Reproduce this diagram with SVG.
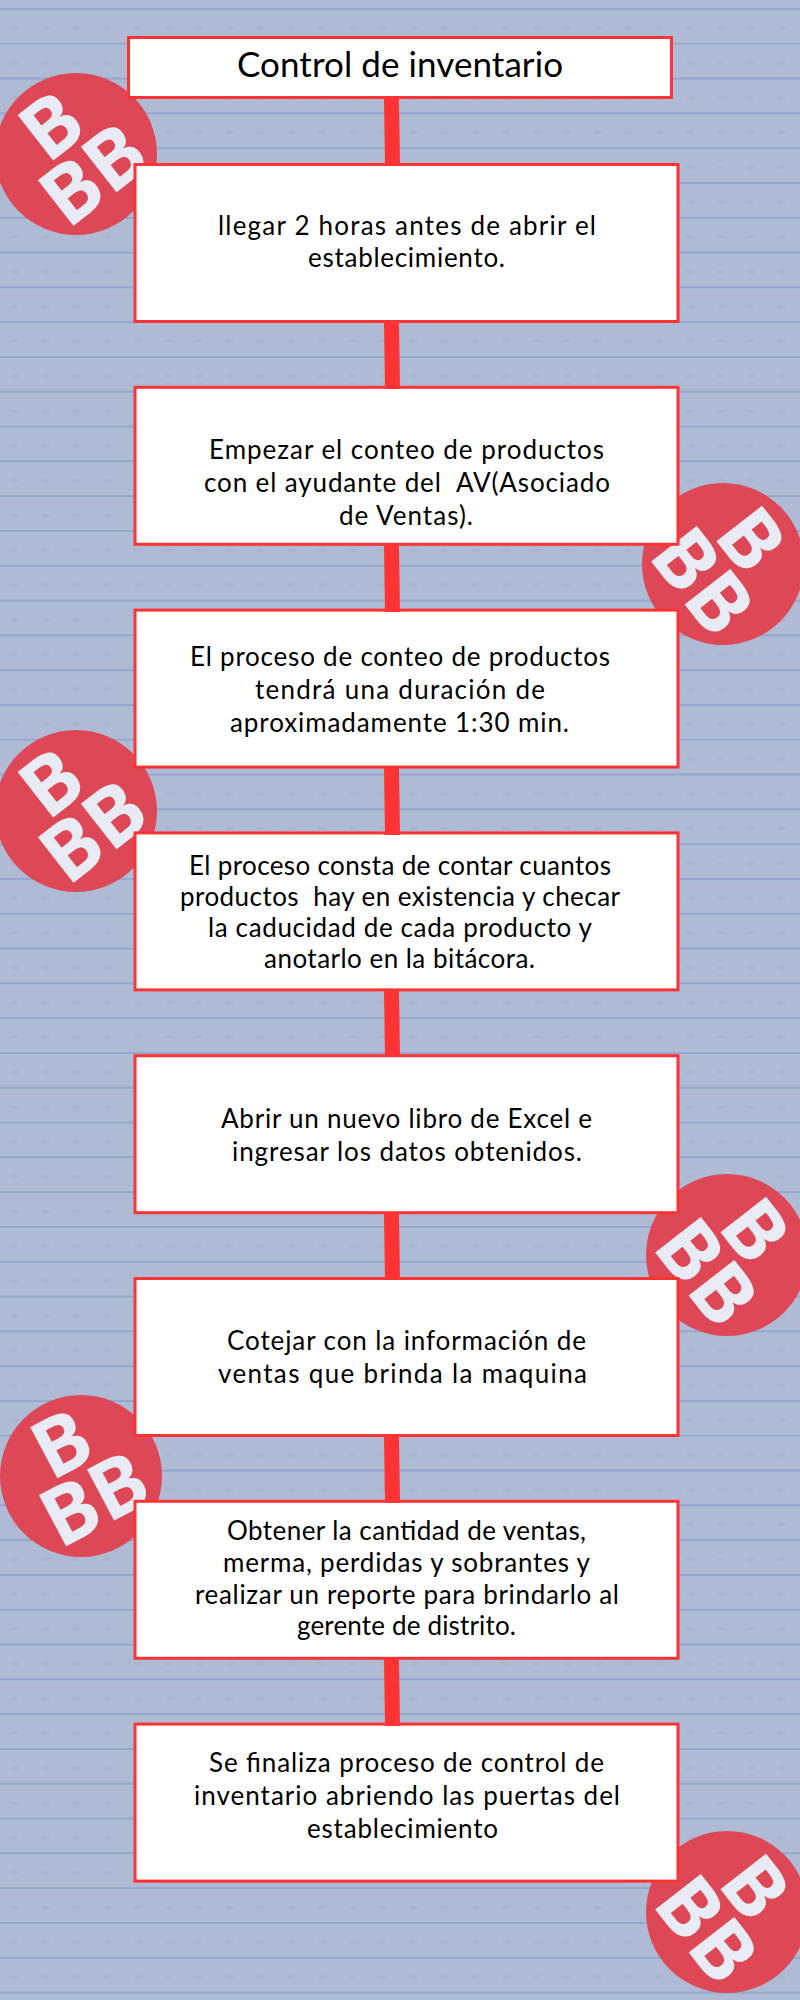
<svg xmlns="http://www.w3.org/2000/svg" width="800" height="2000" viewBox="0 0 800 2000">
<style>
.box{fill:#fff;stroke:#ff3333;stroke-width:3}
.t{font-family:"Lato","Open Sans",sans-serif;font-size:26px;fill:#000;letter-spacing:0}
.title{font-size:35px}
.disc{fill:#df4352;fill-opacity:.97}
.logo{font-family:"Open Sans","Liberation Sans",sans-serif;font-weight:700;font-size:81px;fill:#e8ebf3;text-anchor:middle}
.conn{stroke:#ff3333;stroke-width:15;fill:none}
</style>
<defs>
<pattern id="paper" width="30.67" height="34.8" patternUnits="userSpaceOnUse">
<rect width="30.67" height="34.8" fill="#afbad4"/>
<rect y="8" width="30.67" height="2" fill="#97a4cd"/>
<rect y="10" width="30.67" height="1.2" fill="#abc0d8"/>
<ellipse cx="15" cy="28" rx="4" ry="2" fill="#acb3ce"/>
</pattern>
</defs>
<rect id="background" width="800" height="2000" fill="url(#paper)"/>
<g id="badge1"><circle class="disc" cx="76" cy="154" r="81"/><g transform="translate(76 154) rotate(-38)"><text class="logo" x="-2" y="-9">B</text><text class="logo" x="1" y="55">BB</text></g></g>
<g id="badge2"><circle class="disc" cx="723" cy="564" r="81"/><g transform="translate(723 564) rotate(52)"><text class="logo" x="-2" y="-9">B</text><text class="logo" x="1" y="55">BB</text></g></g>
<g id="badge3"><circle class="disc" cx="76" cy="811" r="81"/><g transform="translate(76 811) rotate(-38)"><text class="logo" x="-2" y="-9">B</text><text class="logo" x="1" y="55">BB</text></g></g>
<g id="badge4"><circle class="disc" cx="727" cy="1255" r="81"/><g transform="translate(727 1255) rotate(52)"><text class="logo" x="-2" y="-9">B</text><text class="logo" x="1" y="55">BB</text></g></g>
<g id="badge5"><circle class="disc" cx="81" cy="1476" r="81"/><g transform="translate(81 1476) rotate(-28)"><text class="logo" x="-2" y="-9">B</text><text class="logo" x="1" y="55">BB</text></g></g>
<g id="badge6"><circle class="disc" cx="727" cy="1912" r="81"/><g transform="translate(727 1912) rotate(52)"><text class="logo" x="-2" y="-9">B</text><text class="logo" x="1" y="55">BB</text></g></g>
<g id="title"><rect class="box" x="128.5" y="37.5" width="543" height="60"/><text class="t title" x="237" y="77" textLength="326" lengthAdjust="spacing">Control de inventario</text></g>
<g id="step1"><rect class="box" x="135" y="164.5" width="543" height="157"/>
<text class="t" x="218" y="235" textLength="378">llegar 2 horas antes de abrir el</text>
<text class="t" x="308" y="267" textLength="197">establecimiento.</text></g>
<g id="step2"><rect class="box" x="135" y="387.3" width="543" height="157"/>
<text class="t" x="209" y="459" textLength="395">Empezar el conteo de productos</text>
<text class="t" x="204" y="492" textLength="406" xml:space="preserve">con el ayudante del  AV(Asociado</text>
<text class="t" x="339" y="525" textLength="134">de Ventas).</text></g>
<g id="step3"><rect class="box" x="135" y="610.1" width="543" height="157"/>
<text class="t" x="190" y="666" textLength="420">El proceso de conteo de productos</text>
<text class="t" x="255" y="699" textLength="290">tendrá una duración de</text>
<text class="t" x="230" y="732" textLength="339">aproximadamente 1:30 min.</text></g>
<g id="step4"><rect class="box" x="135" y="832.9" width="543" height="157"/>
<text class="t" x="189" y="875" textLength="422">El proceso consta de contar cuantos</text>
<text class="t" x="180" y="906" textLength="440" xml:space="preserve">productos  hay en existencia y checar</text>
<text class="t" x="208" y="937" textLength="384">la caducidad de cada producto y</text>
<text class="t" x="264" y="968" textLength="271">anotarlo en la bitácora.</text></g>
<g id="step5"><rect class="box" x="135" y="1055.7" width="543" height="157"/>
<text class="t" x="221" y="1128" textLength="371">Abrir un nuevo libro de Excel e</text>
<text class="t" x="232" y="1161" textLength="350">ingresar los datos obtenidos.</text></g>
<g id="step6"><rect class="box" x="135" y="1278.5" width="543" height="157"/>
<text class="t" x="227" y="1350" textLength="359">Cotejar con la información de</text>
<text class="t" x="218" y="1383" textLength="369">ventas que brinda la maquina</text></g>
<g id="step7"><rect class="box" x="135" y="1501.3" width="543" height="157"/>
<text class="t" x="227" y="1540" textLength="359">Obtener la cantidad de ventas,</text>
<text class="t" x="223" y="1572" textLength="367">merma, perdidas y sobrantes y</text>
<text class="t" x="195" y="1604" textLength="424">realizar un reporte para brindarlo al</text>
<text class="t" x="297" y="1635" textLength="219">gerente de distrito.</text></g>
<g id="step8"><rect class="box" x="135" y="1724.1" width="543" height="157"/>
<text class="t" x="209" y="1772" textLength="395">Se finaliza proceso de control de</text>
<text class="t" x="194" y="1805" textLength="426">inventario abriendo las puertas del</text>
<text class="t" x="307" y="1838" textLength="191">establecimiento</text></g>
<g id="connectors">
<line class="conn" x1="391.5" y1="99" x2="392.5" y2="166"/>
<line class="conn" x1="391.5" y1="322" x2="392.5" y2="389"/>
<line class="conn" x1="391.5" y1="545" x2="392.5" y2="612"/>
<line class="conn" x1="391.5" y1="768" x2="392.5" y2="835"/>
<line class="conn" x1="391.5" y1="990" x2="392.5" y2="1057"/>
<line class="conn" x1="391.5" y1="1213" x2="392.5" y2="1280"/>
<line class="conn" x1="391.5" y1="1436" x2="392.5" y2="1503"/>
<line class="conn" x1="391.5" y1="1659" x2="392.5" y2="1726"/>
</g>
</svg>
